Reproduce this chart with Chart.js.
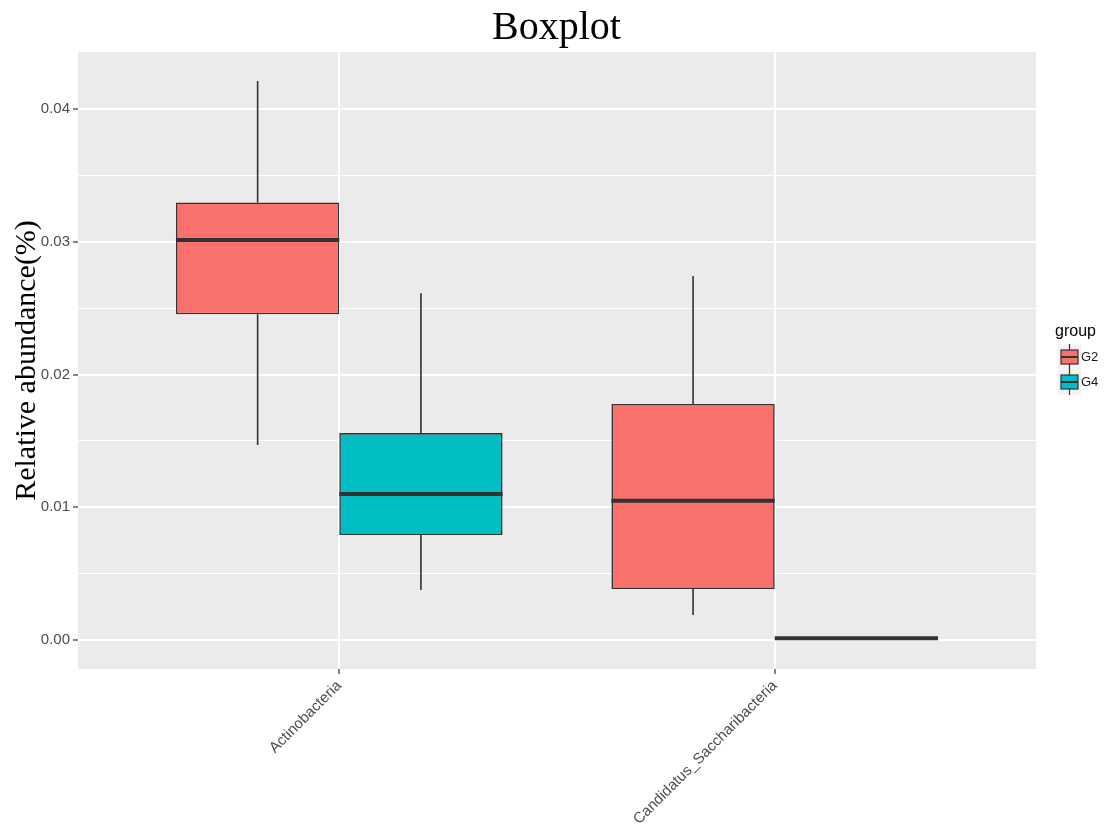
<!DOCTYPE html>
<html>
<head>
<meta charset="utf-8">
<script src="https://cdn.jsdelivr.net/npm/chart.js@4.4.1/dist/chart.umd.min.js"></script>
<style>
  html, body { margin: 0; padding: 0; background: #ffffff; }
  #wrap { width: 1113px; height: 830px; }
</style>
</head>
<body>
<div id="wrap"><canvas id="c" width="1113" height="830"></canvas></div>
<script>
// ---- data ----
const categories = ['Actinobacteria', 'Candidatus_Saccharibacteria'];
const groups = ['G2', 'G4'];
const groupColors = ['#FA706C', '#00BEC3'];

const g2Min    = [0.01469, 0.00188];
const g2Q1     = [0.02453, 0.00384];
const g2Median = [0.03013, 0.01050];
const g2Q3     = [0.03296, 0.01778];
const g2Max    = [0.04211, 0.02742];

const g4Min    = [0.00377, 0.00013];
const g4Q1     = [0.00791, 0.00013];
const g4Median = [0.01100, 0.00013];
const g4Q3     = [0.01559, 0.00013];
const g4Max    = [0.02612, 0.00013];

const yTickStep = 0.005;   // minor grid step; labels on every 0.01
const chartTitle = 'Boxplot';
const yTitle = 'Relative abundance(%)';
const legendTitle = 'group';

const stats = [
  { min: g2Min, q1: g2Q1, median: g2Median, q3: g2Q3, max: g2Max },
  { min: g4Min, q1: g4Q1, median: g4Median, q3: g4Q3, max: g4Max }
];

const DARK = '#333333';
const isMajor = v => Math.abs(v / 0.01 - Math.round(v / 0.01)) < 1e-6;

const datasets = groups.map((g, gi) => ({
  label: g,
  data: categories.map((c, i) => ({ x: i + 1, y: [stats[gi].q1[i], stats[gi].q3[i]] })),
  backgroundColor: groupColors[gi],
  borderColor: DARK,
  borderWidth: 1.6,
  borderSkipped: false,
  categoryPercentage: 0.75,
  barPercentage: 1.0,
  boxStats: stats[gi]
}));

// panel background
const panelBg = {
  id: 'panelBg',
  beforeDraw(chart) {
    const { ctx, chartArea: a } = chart;
    ctx.save();
    ctx.fillStyle = '#EBEBEB';
    ctx.fillRect(a.left, a.top, a.right - a.left, a.bottom - a.top);
    ctx.restore();
  }
};

// whiskers and medians, placed through the chart's scales and bar elements
const boxExtras = {
  id: 'boxExtras',
  afterDatasetsDraw(chart) {
    const { ctx } = chart;
    const y = chart.scales.y;
    ctx.save();
    chart.data.datasets.forEach((ds, di) => {
      const meta = chart.getDatasetMeta(di);
      const s = ds.boxStats;
      meta.data.forEach((el, i) => {
        const cx = el.x, hw = el.width / 2;
        const pMin = y.getPixelForValue(s.min[i]);
        const pQ1 = y.getPixelForValue(s.q1[i]);
        const pQ3 = y.getPixelForValue(s.q3[i]);
        const pMax = y.getPixelForValue(s.max[i]);
        const pMed = y.getPixelForValue(s.median[i]);
        ctx.strokeStyle = DARK;
        ctx.lineWidth = 1.6;
        ctx.beginPath();
        if (pMax < pQ3) { ctx.moveTo(cx, pQ3); ctx.lineTo(cx, pMax); }
        if (pMin > pQ1) { ctx.moveTo(cx, pQ1); ctx.lineTo(cx, pMin); }
        ctx.stroke();
        ctx.lineWidth = 4;
        ctx.beginPath();
        ctx.moveTo(cx - hw, pMed);
        ctx.lineTo(cx + hw, pMed);
        ctx.stroke();
      });
    });
    ctx.restore();
  }
};

// ggplot-style legend on the right
const boxLegend = {
  id: 'boxLegend',
  afterDraw(chart) {
    const { ctx, chartArea: a } = chart;
    const cy0 = (a.top + a.bottom) / 2;
    const x0 = a.right + 19;
    ctx.save();
    ctx.textBaseline = 'middle';
    ctx.textAlign = 'left';
    ctx.fillStyle = '#000000';
    ctx.font = '16px "Liberation Sans", Arial, sans-serif';
    ctx.fillText(legendTitle, x0, cy0 - 28.5);
    chart.data.datasets.forEach((ds, i) => {
      const cy = cy0 - 3.5 + i * 25;
      const cx = x0 + 14.5;
      ctx.fillStyle = '#F2F2F2';
      ctx.fillRect(cx - 11.5, cy - 12.5, 23, 25);
      ctx.strokeStyle = DARK;
      ctx.lineWidth = 1.2;
      ctx.beginPath();
      ctx.moveTo(cx, cy - 13); ctx.lineTo(cx, cy + 13);
      ctx.stroke();
      ctx.fillStyle = ds.backgroundColor;
      ctx.fillRect(cx - 8.5, cy - 7, 17, 14);
      ctx.strokeRect(cx - 8.5, cy - 7, 17, 14);
      ctx.lineWidth = 2;
      ctx.beginPath();
      ctx.moveTo(cx - 8.5, cy); ctx.lineTo(cx + 8.5, cy);
      ctx.stroke();
      ctx.fillStyle = '#1A1A1A';
      ctx.font = '13px "Liberation Sans", Arial, sans-serif';
      ctx.fillText(ds.label, x0 + 26, cy);
    });
    ctx.restore();
  }
};

new Chart(document.getElementById('c'), {
  type: 'bar',
  data: { datasets },
  plugins: [panelBg, boxExtras, boxLegend],
  options: {
    responsive: false,
    devicePixelRatio: 1,
    animation: false,
    layout: { padding: 0 },
    plugins: {
      legend: { display: false },
      tooltip: { enabled: false },
      title: {
        display: true,
        text: chartTitle,
        color: '#000000',
        font: { family: '"Liberation Serif", "Times New Roman", serif', size: 40, weight: 'normal' },
        padding: { top: 4, bottom: 0 }
      }
    },
    scales: {
      x: {
        type: 'linear',
        min: 0.4,
        max: 2.6,
        offset: false,
        afterBuildTicks(s) { s.ticks = categories.map((c, i) => ({ value: i + 1 })); },
        afterFit(s) { s.height = 161; },
        ticks: {
          callback: v => categories[Math.round(v) - 1] || '',
          minRotation: 45,
          maxRotation: 45,
          autoSkip: false,
          color: '#4D4D4D',
          font: { family: '"Liberation Sans", Arial, sans-serif', size: 15 },
          padding: 3
        },
        grid: { offset: false, color: '#FFFFFF', lineWidth: 2, tickColor: DARK, tickLength: 5, tickWidth: 1.2 },
        border: { display: false }
      },
      y: {
        min: -0.00218,
        max: 0.04429,
        afterFit(s) { s.width = 78; },
        ticks: {
          stepSize: yTickStep,
          includeBounds: false,
          autoSkip: false,
          callback: v => isMajor(v) ? Number(v).toFixed(2) : '',
          color: '#4D4D4D',
          font: { family: '"Liberation Sans", Arial, sans-serif', size: 15 },
          padding: 3
        },
        grid: {
          color: '#FFFFFF',
          lineWidth: c => (c.tick && isMajor(c.tick.value)) ? 2 : 1,
          tickColor: c => (c.tick && isMajor(c.tick.value)) ? DARK : 'rgba(0,0,0,0)',
          tickLength: 5,
          tickWidth: 1.2
        },
        border: { display: false },
        title: {
          display: true,
          text: yTitle,
          color: '#000000',
          font: { family: '"Liberation Serif", "Times New Roman", serif', size: 30, weight: 'normal' },
          padding: { top: 9, bottom: 0 }
        }
      },
      legendSpace: {
        type: 'linear',
        position: 'right',
        display: true,
        afterFit(s) { s.width = 77; },
        ticks: { display: false },
        grid: { display: false, drawOnChartArea: false },
        border: { display: false }
      }
    }
  }
});
</script>
</body>
</html>
